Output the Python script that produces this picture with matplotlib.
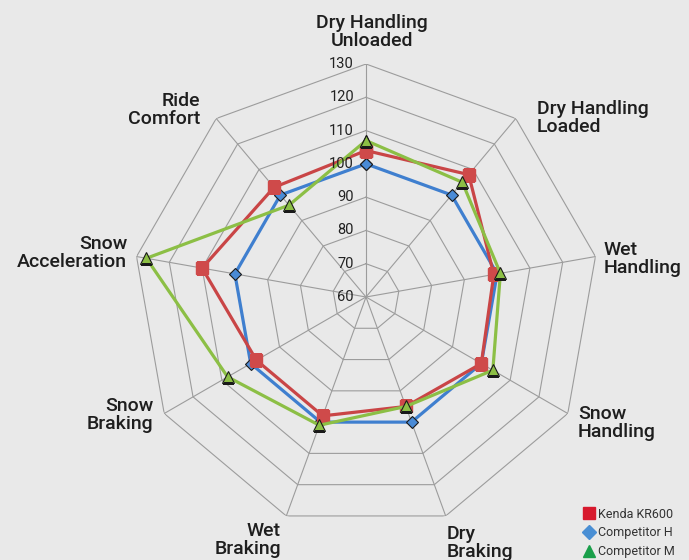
import numpy as np
import matplotlib
matplotlib.use("Agg")
import matplotlib.pyplot as plt
from matplotlib.lines import Line2D

plt.rcParams['font.family'] = ['Roboto', 'DejaVu Sans']

# categories clockwise from the top
categories = ["Dry Handling\nUnloaded", "Dry Handling\nLoaded", "Wet\nHandling",
              "Snow\nHandling", "Dry\nBraking", "Wet\nBraking", "Snow\nBraking",
              "Snow\nAcceleration", "Ride\nComfort"]
kenda = [104, 108, 99, 100, 95, 98, 98, 110, 103]
comp_h = [100, 100, 100, 100, 100, 100, 100, 100, 100]
comp_m = [107, 105, 101, 104, 95, 101, 108, 127, 96]
ring_values = [70, 80, 90, 100, 110, 120, 130]
tick_labels = ["60", "70", "80", "90", "100", "110", "120", "130"]

W, H = 689, 560
fig = plt.figure(figsize=(W / 100, H / 100), dpi=100)
fig.patch.set_facecolor("#e9e9e9")

cx, cy, R = 366, 297, 233
ax = fig.add_axes([(cx - R) / W, (H - cy - R) / H, 2 * R / W, 2 * R / H], projection="polar")
ax.set_theta_offset(np.pi / 2)
ax.set_theta_direction(-1)
ax.set_ylim(60, 130)
ax.patch.set_alpha(0)
ax.grid(False)
ax.spines["polar"].set_visible(False)
ax.set_xticks([])
ax.set_yticks([])

n = len(categories)
theta = np.arange(n) * 2 * np.pi / n
theta_c = np.append(theta, theta[0])

grid_col = "#9c9c9c"
for v in ring_values:
    ax.plot(theta_c, [v] * (n + 1), color=grid_col, lw=0.8, zorder=1)
for t in theta:
    ax.plot([t, t], [60, 130], color=grid_col, lw=0.8, zorder=1)

# value labels along the top spoke
for i, lab in enumerate(tick_labels):
    y = cy - i * R / 7
    fig.text((cx - 12) / W, 1 - y / H, lab, ha="right", va="center",
             fontsize=10.5, color="#222222")

def close(vals):
    return list(vals) + [vals[0]]

ax.plot(theta_c, close(comp_h), color="#3f7fcf", lw=2.3, marker="D", ms=6,
        mfc="#4a8bd6", mec="#1a1a1a", mew=0.8, zorder=3)
ax.plot(theta_c, close(kenda), color="#c94546", lw=2.3, marker="s", ms=8,
        mfc="#cf4a4a", mec="#cf4a4a", zorder=4)
ax.plot(theta_c, close(comp_m), color="#8cbf45", lw=2.3, marker="^", ms=8,
        mfc="#8cbf45", mec="#1a1a1a", mew=0.8, zorder=5)

# category labels (x, y in pixels, alignment)
label_pos = [(372, 32, "center"), (537, 118, "left"), (604, 259, "left"),
             (578, 423, "left"), (447, 543, "left"), (281, 540, "right"),
             (153, 415, "right"), (127, 253, "right"), (200, 110, "right")]
for lab, (x, y, ha) in zip(categories, label_pos):
    fig.text(x / W, 1 - y / H, lab, ha=ha, va="center", multialignment=ha,
             fontsize=14, color="#1e1e1e", fontweight="medium", linespacing=0.95)

handles = [Line2D([], [], ls="none", marker="s", ms=8, color="#d7192d"),
           Line2D([], [], ls="none", marker="D", ms=7, color="#4a8fd4"),
           Line2D([], [], ls="none", marker="^", ms=8, color="#1a9f4a")]
leg = fig.legend(handles, ["Kenda KR600", "Competitor H", "Competitor M"],
                 loc="lower right", bbox_to_anchor=(0.992, -0.012), frameon=False,
                 fontsize=9, handletextpad=0.1, labelspacing=0.45, handlelength=1.2,
                 borderaxespad=0.3)
for t in leg.get_texts():
    t.set_color("#333333")

fig.savefig("out.png", dpi=100, facecolor=fig.get_facecolor())
